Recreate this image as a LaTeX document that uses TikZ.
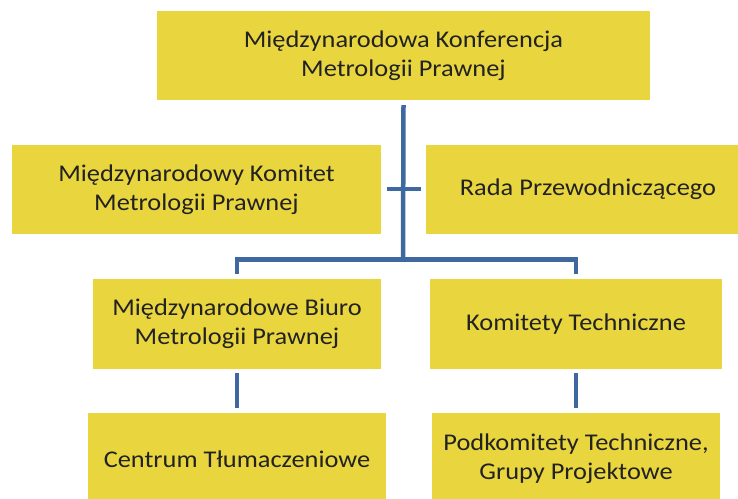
\documentclass[tikz,border=0pt]{standalone}
\usepackage{fontspec}
\setmainfont{Carlito}[FakeStretch=1.1]
\definecolor{boxfill}{RGB}{233,214,62}
\definecolor{linecol}{RGB}{64,104,160}
\definecolor{txt}{RGB}{34,34,34}
\begin{document}
\begin{tikzpicture}[x=1pt,y=-1pt,
  box/.style={rectangle,fill=boxfill,inner sep=0pt,align=center,text=txt,
    font=\fontsize{24}{29}\selectfont},
  conn/.style={draw=linecol,line width=4.5pt,line cap=butt,line join=miter}]
\useasboundingbox (0,0) rectangle (738,498);
\clip (0,0) rectangle (738,498);
\node[box,minimum width=493,minimum height=89] (top) at (403.5,55.5) {Międzynarodowa Konferencja\\Metrologii Prawnej};
\node[box,minimum width=369,minimum height=89] (kom) at (196.5,189.5) {Międzynarodowy Komitet\\Metrologii Prawnej};
\node[box,minimum width=324,minimum height=89] (rada) at (588,189.5) {Rada Przewodniczącego};
\node[box,minimum width=288,minimum height=90] (biuro) at (237,324) {Międzynarodowe Biuro\\Metrologii Prawnej};
\node[box,minimum width=292,minimum height=90] (tech) at (576,324) {Komitety Techniczne};
\node[box,minimum width=298,minimum height=92] (centrum) at (237,459) {Centrum Tłumaczeniowe};
\node[box,minimum width=288,minimum height=92] (pod) at (576,459) {Podkomitety Techniczne,\\Grupy Projektowe};
% junctions
\coordinate (j) at (403,259.5);
\coordinate (cl) at (387,189);
\coordinate (cr) at (421,189);
\draw[conn] ([yshift=-5pt]top.south) -- (j);
\draw[conn] (cl) -- (cr);
\draw[conn] ([yshift=5pt]biuro.north) |- (j) -| ([yshift=5pt]tech.north);
\draw[conn] ([yshift=-4pt]biuro.south) -- ([yshift=5pt]centrum.north);
\draw[conn] ([yshift=-4pt]tech.south) -- ([yshift=5pt]pod.north);
\end{tikzpicture}
\end{document}
